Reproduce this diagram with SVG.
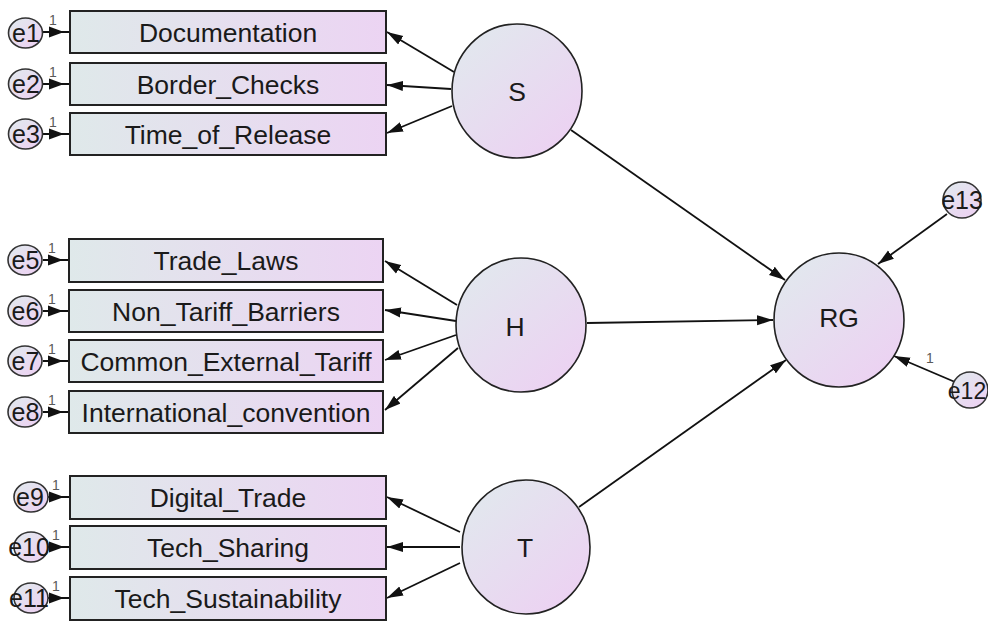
<svg xmlns="http://www.w3.org/2000/svg" width="988" height="621" viewBox="0 0 988 621">
<defs>
<linearGradient id="gBox" x1="0" y1="0" x2="1" y2="0">
<stop offset="0" stop-color="#dfe9ea"/>
<stop offset="1" stop-color="#ecd4f3"/>
</linearGradient>
<linearGradient id="gCir" x1="0.15" y1="0.1" x2="0.85" y2="0.9">
<stop offset="0" stop-color="#e2e7ee"/>
<stop offset="1" stop-color="#ecd2f2"/>
</linearGradient>
<marker id="ah" markerUnits="userSpaceOnUse" markerWidth="17" markerHeight="11" refX="16" refY="5.5" orient="auto">
<path d="M0,0.5 L16,5.5 L0,10.5 z" fill="#111"/>
</marker>
<marker id="eh" markerUnits="userSpaceOnUse" markerWidth="22" markerHeight="12" refX="21" refY="6" orient="auto">
<path d="M0,0.5 L15,6 L0,11.5 z" fill="#111"/>
</marker>
<style>
.box{fill:url(#gBox);stroke:#222;stroke-width:2}
.lat{fill:url(#gCir);stroke:#222;stroke-width:1.6}
.err{fill:url(#gCir);stroke:#333;stroke-width:1.6}
.t{font-family:"Liberation Sans",Arial,sans-serif;font-size:26.5px;fill:#1a1a1a;text-anchor:middle}
.te{font-family:"Liberation Sans",Arial,sans-serif;font-size:25px;fill:#1a1a1a;text-anchor:middle}
.one{font-family:"Liberation Sans",Arial,sans-serif;font-size:14px;fill:#5a5a5a;text-anchor:middle}
.c{stroke:#111;stroke-width:1.8;fill:none;marker-end:url(#ah)}
.ce{stroke:#111;stroke-width:2;fill:none;marker-end:url(#eh)}
</style>
</defs>

<g id="connectors">
<line class="c" x1="454" y1="72" x2="387" y2="32"/>
<line class="c" x1="451" y1="89" x2="387" y2="85"/>
<line class="c" x1="452" y1="106" x2="387" y2="133"/>
<line class="c" x1="457" y1="305" x2="385" y2="261"/>
<line class="c" x1="456" y1="321" x2="385" y2="310"/>
<line class="c" x1="456" y1="335" x2="385" y2="360"/>
<line class="c" x1="458" y1="348" x2="385" y2="410"/>
<line class="c" x1="460" y1="532" x2="387" y2="497"/>
<line class="c" x1="460" y1="547" x2="387" y2="547"/>
<line class="c" x1="460" y1="563" x2="387" y2="598"/>
<line class="c" x1="571" y1="130" x2="785" y2="280"/>
<line class="c" x1="587" y1="323" x2="773" y2="320"/>
<line class="c" x1="579" y1="507" x2="786" y2="360"/>
<line class="c" x1="947" y1="214" x2="878" y2="264"/>
<line class="c" x1="955" y1="382" x2="894" y2="356"/>
<line class="ce" x1="43" y1="32" x2="70" y2="32"/>
<line class="ce" x1="43" y1="84" x2="70" y2="84"/>
<line class="ce" x1="43" y1="134" x2="70" y2="134"/>
<line class="ce" x1="43" y1="260" x2="69" y2="260"/>
<line class="ce" x1="43" y1="311" x2="69" y2="311"/>
<line class="ce" x1="43" y1="361" x2="69" y2="361"/>
<line class="ce" x1="43" y1="412" x2="69" y2="412"/>
<line class="ce" x1="48" y1="497" x2="70" y2="497"/>
<line class="ce" x1="48" y1="547" x2="70" y2="547"/>
<line class="ce" x1="48" y1="598" x2="70" y2="598"/>
<text class="one" x="53" y="25">1</text>
<text class="one" x="53" y="77">1</text>
<text class="one" x="53" y="127">1</text>
<text class="one" x="52" y="253">1</text>
<text class="one" x="52" y="304">1</text>
<text class="one" x="52" y="354">1</text>
<text class="one" x="52" y="405">1</text>
<text class="one" x="56" y="490">1</text>
<text class="one" x="56" y="540">1</text>
<text class="one" x="56" y="591">1</text>
<text class="one" x="930" y="363">1</text>
</g>

<g id="Documentation"><rect class="box" x="70" y="11" width="316" height="42"/><text class="t" x="228" y="41.5">Documentation</text></g>
<g id="Border_Checks"><rect class="box" x="70" y="63" width="316" height="42"/><text class="t" x="228" y="93.5">Border_Checks</text></g>
<g id="Time_of_Release"><rect class="box" x="70" y="113" width="316" height="42"/><text class="t" x="228" y="143.5">Time_of_Release</text></g>

<g id="Trade_Laws"><rect class="box" x="69" y="239" width="314" height="43"/><text class="t" x="226" y="270">Trade_Laws</text></g>
<g id="Non_Tariff_Barriers"><rect class="box" x="69" y="290" width="314" height="42"/><text class="t" x="226" y="320.5">Non_Tariff_Barriers</text></g>
<g id="Common_External_Tariff"><rect class="box" x="69" y="340" width="314" height="42"/><text class="t" x="226" y="370.5">Common_External_Tariff</text></g>
<g id="International_convention"><rect class="box" x="69" y="391" width="314" height="42"/><text class="t" x="226" y="421.5">International_convention</text></g>

<g id="Digital_Trade"><rect class="box" x="70" y="476" width="316" height="43"/><text class="t" x="228" y="507">Digital_Trade</text></g>
<g id="Tech_Sharing"><rect class="box" x="70" y="526" width="316" height="43"/><text class="t" x="228" y="557">Tech_Sharing</text></g>
<g id="Tech_Sustainability"><rect class="box" x="70" y="577" width="316" height="43"/><text class="t" x="228" y="608">Tech_Sustainability</text></g>

<g id="S"><ellipse class="lat" cx="517" cy="91" rx="65" ry="67"/><text class="t" x="517" y="101">S</text></g>
<g id="H"><ellipse class="lat" cx="521" cy="325" rx="65" ry="67"/><text class="t" x="515" y="336">H</text></g>
<g id="T"><ellipse class="lat" cx="526" cy="547" rx="64" ry="67"/><text class="t" x="525" y="557">T</text></g>
<g id="RG"><ellipse class="lat" cx="839" cy="320" rx="65" ry="67"/><text class="t" x="839" y="327">RG</text></g>

<g id="e1"><ellipse class="err" cx="25.5" cy="33" rx="17" ry="15"/><text class="te" x="26" y="42">e1</text></g>
<g id="e2"><ellipse class="err" cx="25.5" cy="84" rx="17" ry="15"/><text class="te" x="26" y="93">e2</text></g>
<g id="e3"><ellipse class="err" cx="25.5" cy="134" rx="17" ry="15"/><text class="te" x="26" y="143">e3</text></g>
<g id="e5"><ellipse class="err" cx="25" cy="260" rx="17" ry="15"/><text class="te" x="25.5" y="269">e5</text></g>
<g id="e6"><ellipse class="err" cx="25" cy="311" rx="17" ry="15"/><text class="te" x="25.5" y="320">e6</text></g>
<g id="e7"><ellipse class="err" cx="25" cy="361" rx="17" ry="15"/><text class="te" x="25.5" y="370">e7</text></g>
<g id="e8"><ellipse class="err" cx="25" cy="412" rx="17" ry="15"/><text class="te" x="25.5" y="421">e8</text></g>
<g id="e9"><ellipse class="err" cx="31" cy="497" rx="17" ry="15"/><text class="te" x="30" y="506">e9</text></g>
<g id="e10"><ellipse class="err" cx="31" cy="547" rx="17" ry="15"/><text class="te" x="29" y="556">e10</text></g>
<g id="e11"><ellipse class="err" cx="31" cy="598" rx="17" ry="15"/><text class="te" x="29" y="607">e11</text></g>
<g id="e13"><ellipse class="err" cx="962" cy="200" rx="19" ry="18"/><text class="te" x="962" y="209">e13</text></g>
<g id="e12"><ellipse class="err" cx="970" cy="390" rx="18" ry="18"/><text class="te" x="967" y="398.5" style="font-size:23px">e12</text></g>
</svg>
